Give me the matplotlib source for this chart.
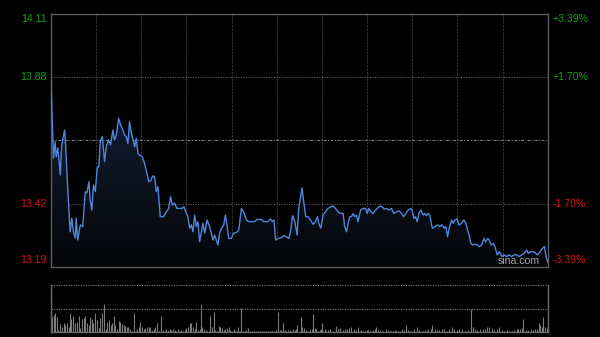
import numpy as np
import matplotlib
matplotlib.use('Agg')
import matplotlib.pyplot as plt
from matplotlib.path import Path
from matplotlib.patches import PathPatch
from matplotlib.colors import LinearSegmentedColormap

# ---------------- data ----------------
prev_close = 13.65
price_low, price_high = 13.19, 14.11
left_values = [14.11, 13.88, 13.42, 13.19]
left_labels = ['14.11', '13.88', '13.42', '13.19']
right_labels = ['+3.39%', '+1.70%', '-1.70%', '-3.39%']
session_minutes = 241
vol_max = 47.0
watermark = 'sina.com'

minutes = [
    0, 1.2, 2.0, 2.5, 3.3, 3.8, 4.5, 5.2, 6.6, 7.0,
    8.2, 9.3, 10.1, 10.9, 11.8, 12.2, 13.0, 14.2, 15.4, 16.6,
    17.4, 18.4, 19.0, 19.8, 20.6, 21.5, 22.4, 23.2, 23.9, 24.9,
    26.0, 26.8, 27.9, 28.9, 30.0, 30.8, 31.7, 32.8, 33.8, 34.6,
    35.7, 36.5, 37.3, 38.1, 39.0, 39.7, 40.6, 41.4, 42.2, 43.0,
    44.3, 45.4, 46.5, 47.5,
    48.3, 49.4, 50.3, 51.1, 51.9, 53.0, 54.6, 56.0, 57.1, 58.0,
    58.9, 60.0, 61.1, 62.4, 63.5, 64.5, 65.7, 66.4, 67.3, 68.1,
    68.9, 69.7, 70.5, 71.3, 72.1, 73.0, 73.7, 74.6, 75.7, 77.0,
    77.8, 78.6, 79.4, 80.2, 81.0, 81.8, 82.7, 83.8, 84.6, 85.4,
    86.2, 87.5, 88.6, 89.9, 91.1, 92.4, 93.5, 94.8, 95.9,
    97.2, 98.8, 100.0, 102.1, 103.2, 105.3, 106.5, 107.4, 108.2, 109.0,
    110.2, 111.8, 113.1, 114.2, 115.4, 116.2, 117.2, 118.3, 119.4, 120.2,
    121.0, 121.8, 122.6, 123.6, 124.7, 125.9, 127.2, 128.3, 129.3, 129.9,
    130.9, 132.0, 133.2, 134.4, 135.8, 136.9, 138.0, 139.0, 140.1, 141.7,
    142.5, 143.4, 144.2,
    145.0, 145.8, 146.6, 147.4, 148.2, 149.0, 150.2, 151.4, 152.6, 153.4,
    154.2, 155.2, 156.3, 157.1, 158.2, 159.5, 160.7, 161.6, 162.8, 163.9,
    165.2, 166.3, 167.7, 168.9, 170.1, 171.1, 172.2, 173.3, 174.5, 175.2,
    176.1, 176.9, 177.7, 178.5, 179.5, 180.6, 181.4, 182.2, 183.0, 183.8,
    185.0, 186.3, 187.6, 188.7, 189.8, 190.8, 191.6, 192.4, 193.2,
    194.4, 195.2, 196.0, 197.1, 197.9, 199.2, 200.3, 201.3, 202.1, 202.9,
    203.7, 204.6, 205.7, 206.8, 207.8, 208.9, 210.1, 210.9, 211.9, 212.6,
    213.5, 214.6, 215.4, 216.5, 217.5, 218.7, 219.8, 221.1, 222.2, 223.5,
    224.6, 225.9, 227.1, 228.4, 229.6, 230.8, 231.6, 232.7, 234.0, 235.2,
    236.1, 237.3, 238.4, 239.4, 240.2, 241.0,
]
prices = [
    13.870, 13.585, 13.646, 13.591, 13.623, 13.586, 13.525, 13.634, 13.688, 13.646,
    13.464, 13.318, 13.368, 13.318, 13.295, 13.368, 13.288, 13.343, 13.337, 13.464,
    13.459, 13.500, 13.434, 13.397, 13.488, 13.464, 13.550, 13.555, 13.646, 13.664,
    13.573, 13.627, 13.652, 13.634, 13.688, 13.652, 13.670, 13.731, 13.706, 13.694,
    13.670, 13.664, 13.640, 13.718, 13.676, 13.658, 13.627, 13.658, 13.603, 13.597,
    13.591, 13.567, 13.531, 13.500,
    13.504, 13.521, 13.518, 13.464, 13.482, 13.373, 13.373, 13.391, 13.403, 13.446,
    13.415, 13.422, 13.403, 13.403, 13.403, 13.409, 13.385, 13.373, 13.331, 13.343,
    13.318, 13.379, 13.337, 13.355, 13.282, 13.318, 13.349, 13.313, 13.361, 13.337,
    13.313, 13.288, 13.306, 13.288, 13.270, 13.313, 13.331, 13.343, 13.379, 13.343,
    13.294, 13.294, 13.313, 13.315, 13.325, 13.403, 13.391, 13.361, 13.355,
    13.355, 13.355, 13.363, 13.363, 13.355, 13.355, 13.365, 13.355, 13.361, 13.288,
    13.294, 13.297, 13.304, 13.300, 13.294, 13.318, 13.377, 13.355, 13.306, 13.403,
    13.440, 13.478, 13.427, 13.373, 13.373, 13.361, 13.345, 13.355, 13.373, 13.349,
    13.331, 13.379, 13.391, 13.403, 13.409, 13.412, 13.403, 13.394, 13.385, 13.385,
    13.337, 13.318, 13.349,
    13.373, 13.373, 13.385, 13.373, 13.379, 13.355, 13.397, 13.403, 13.403, 13.385,
    13.403, 13.391, 13.385, 13.394, 13.403, 13.412, 13.409, 13.401, 13.403, 13.397,
    13.403, 13.385, 13.391, 13.394, 13.385, 13.373, 13.385, 13.397, 13.403, 13.397,
    13.367, 13.373, 13.355, 13.385, 13.397, 13.379, 13.385, 13.377, 13.385, 13.379,
    13.331, 13.337, 13.343, 13.337, 13.343, 13.331, 13.337, 13.300, 13.331,
    13.361, 13.349, 13.361, 13.365, 13.343, 13.349, 13.361, 13.349, 13.325, 13.306,
    13.276, 13.270, 13.273, 13.270, 13.264, 13.270, 13.294, 13.282, 13.294, 13.288,
    13.270, 13.276, 13.264, 13.234, 13.246, 13.228, 13.234, 13.228, 13.234, 13.228,
    13.234, 13.234, 13.228, 13.234, 13.240, 13.252, 13.240, 13.246, 13.246, 13.240,
    13.234, 13.246, 13.258, 13.264, 13.228, 13.208,
]

vol_minutes = [
    0.1, 0.6, 1.4, 2.0, 2.8, 3.6, 4.6, 5.3, 6.1, 6.9,
    7.7, 8.5, 9.3, 9.8, 10.9, 11.7, 12.5, 13.4, 14.2, 15.0,
    15.8, 16.6, 17.4, 18.2, 19.0, 19.8, 20.6, 21.5, 22.3, 23.2,
    23.9, 24.9, 25.7, 26.5, 27.3, 28.1, 28.9, 29.5, 30.4, 31.2,
    32.0, 32.8, 33.6, 34.4, 35.2, 36.0, 36.8, 37.6, 38.5, 39.3,
    40.2, 41.0, 41.9, 42.5, 43.3, 44.1, 44.9, 45.7, 46.5, 47.4,
    48.2, 49.0, 49.8, 50.6, 51.4, 52.2, 53.3, 54.3, 55.1, 55.9,
    56.7, 57.6, 58.4, 59.2, 60.0, 60.8, 61.6, 62.4, 63.2, 64.0,
    64.8, 65.7, 66.5, 67.3, 68.1, 68.9, 69.7, 70.5, 71.3, 72.1,
    72.6, 73.4, 74.2, 75.0, 75.8, 76.7, 77.3, 78.1, 78.9, 79.7,
    80.5, 81.4, 82.2, 83.0, 83.8, 84.6, 85.4, 86.2, 87.0, 87.8,
    88.6, 89.5, 90.3, 90.9, 91.6, 92.2, 93.2, 94.0, 94.8, 95.4,
    96.4, 97.4, 98.4, 99.3, 100.3, 101.3, 102.2, 103.2, 104.2, 105.2,
    106.1, 107.1, 108.1, 109.0, 109.9, 111.0, 111.8, 112.6, 113.4, 114.2,
    115.0, 115.8, 116.6, 117.5, 118.3, 119.1, 119.6,
    121.2, 122.0, 122.8, 123.6, 124.7, 125.6, 126.4, 127.2, 128.0, 128.8,
    129.6, 130.4, 131.1, 131.7, 132.8, 133.6, 134.5, 135.6, 136.9, 138.2,
    139.3, 140.4, 141.7, 142.5, 143.4, 144.7, 145.8, 146.9, 147.9, 149.0,
    149.8, 150.6, 151.5, 152.3, 153.1, 153.9, 154.7, 155.5, 156.3, 157.1,
    157.9, 158.7, 159.6, 160.4, 161.2, 162.5, 163.6, 164.4, 165.2, 166.0,
    166.8, 167.6, 168.5, 169.3, 170.1, 171.2, 172.2, 173.3, 174.1, 174.9,
    176.1, 177.4, 178.6, 179.8, 180.6, 181.4, 182.2, 183.0, 184.2, 185.1,
    186.3, 187.4, 188.4, 189.5, 190.6, 191.9, 193.2, 194.4, 195.5, 196.8,
    198.1, 199.2, 200.8, 202.5, 203.6, 204.6, 205.7, 206.8, 208.1, 209.4,
    210.5, 211.7, 212.7, 213.8, 214.9, 216.2, 217.2, 218.6, 219.8, 221.1,
    222.4, 223.5, 224.6, 225.9, 226.7, 227.5, 228.4, 229.2, 230.3, 231.6,
    232.7, 234.0, 234.8, 235.6, 236.6, 237.4, 238.2, 238.9, 239.7, 240.5,
]
volumes = [
    33.7, 15, 17, 18.7, 15, 2, 8, 5, 8.7, 7,
    8.7, 5, 18.7, 12.7, 16, 8.7, 10, 16, 3.7, 12.7,
    13.7, 16, 8.7, 7, 15, 12.7, 8.7, 18.7, 12, 3.7,
    13.7, 18.7, 28, 2.7, 10, 12, 7, 8.7, 16.3, 7,
    2.7, 11, 10, 8, 7, 6, 5.3, 5.3, 2.7, 1.3,
    19.3, 1.3, 2.7, 4.7, 10, 5.3, 2.7, 3.7, 4.7, 5.3,
    4.7, 2, 2.7, 5.3, 9.3, 1.3, 16, 2, 1.3, 3.3,
    2, 2.7, 2, 2.7, 2, 1.3, 3.3, 1.3, 2, 0.7,
    2, 3.7, 5.3, 9.3, 8.7, 4.7, 2.7, 10, 2, 3,
    28, 5.3, 2.7, 2, 1, 1.3, 16, 5.3, 20.3, 2,
    1.3, 6, 4.7, 3.7, 2, 2.7, 3.7, 4.7, 2, 1.3,
    2.7, 1.3, 1.3, 4.7, 1.3, 23.7, 1.3, 1, 2, 3.7,
    1.3, 1.3, 1.3, 1.3, 1.3, 1.3, 1.3, 1.3, 1.3, 1.3,
    1.3, 1.3, 1.3, 2, 20.3, 2, 2, 9.3, 2, 1.3,
    2, 2, 1.3, 2.7, 2, 2.7, 7,
    15.3, 5.3, 3.7, 2, 1.3, 2, 2.7, 18, 3.7, 3.3,
    1.3, 2, 2.7, 9.3, 2.7, 1.3, 2, 2.7, 1.3, 6,
    2.7, 3.7, 2, 2.7, 2.7, 3.7, 4.7, 2.7, 2, 5.3,
    1.3, 2, 1.3, 1.3, 2, 2, 1.3, 1.3, 2, 2.7,
    4.7, 2, 2, 1.3, 1.3, 3.3, 2, 1.3, 1.3, 1.3,
    2, 1.3, 1.3, 1.3, 2.7, 2, 6.7, 2, 1.3, 1.3,
    2.7, 4.7, 2, 1.3, 1.3, 2, 1.3, 2.7, 2.7, 6.7,
    2.7, 2, 2, 2.7, 2.7, 1.3, 2.7, 4.7, 2.7, 2,
    2.7, 2.7, 1.3, 2, 23, 4.7, 2.7, 2, 2.7, 2.7,
    2.7, 4.7, 4.7, 3.7, 2, 2.7, 4.7, 2, 1.3, 2,
    1.3, 1.3, 2, 2.7, 2.7, 2.7, 3.7, 12.7, 2, 2,
    2.7, 2, 2.7, 3.3, 9.3, 7, 4.7, 14.7, 4.7, 3.7,
]

# ---------------- figure ----------------
W, H = 600, 337
fig = plt.figure(figsize=(W / 100, H / 100), dpi=100, facecolor='black')
ax = fig.add_axes([51 / W, 70 / H, 496.7 / W, 253 / H], facecolor='black')
axv = fig.add_axes([51 / W, 5 / H, 496.7 / W, 47 / H], facecolor='black')

t = np.array(minutes)
p = np.array(prices)

# gradient fill under the line
verts = list(zip(t, p)) + [(t[-1], price_low), (t[0], price_low)]
clip = PathPatch(Path(verts), facecolor='none', edgecolor='none')
ax.add_patch(clip)
cmap = LinearSegmentedColormap.from_list('fillg', ['#040507', '#15223a'])
grad = np.linspace(1, 0, 256).reshape(-1, 1)
im = ax.imshow(grad, extent=[t[0], t[-1], price_low, p.max()], aspect='auto',
               cmap=cmap, origin='upper', zorder=1, interpolation='bilinear')
im.set_clip_path(clip)

# grid lines
for xv in np.linspace(0, session_minutes, 12)[1:-1]:
    ax.axvline(xv, color='#353535', lw=0.8, ls=(0, (2, 1)), zorder=0.5)
for yv in left_values[1:3]:
    ax.axhline(yv, color='#6e6e6e', lw=0.7, ls=(0, (1, 1.6)), zorder=0.5)
ax.axhline(prev_close, color='#858585', lw=0.7, ls=(0, (3, 1.5, 1, 1.5)), zorder=0.5)

ax.plot(t, p, color='#4f86dc', lw=1.0, zorder=3, solid_joinstyle='round')

ax.set_xlim(0, session_minutes)
ax.set_ylim(price_low, price_high)
ax.set_xticks([])
ax.set_yticks([])
for s in ax.spines.values():
    s.set_color('#5c5c5c')
    s.set_linewidth(1.0)

# price labels
font = 'Liberation Sans'
green, red = '#15a015', '#d41515'
nudges = [-3.6, 0, 0, 5.0]
for val, ltxt, rtxt, dy in zip(left_values, left_labels, right_labels, nudges):
    col = green if val > prev_close else red
    ax.annotate(ltxt, xy=(0, val), xycoords=('axes fraction', 'data'),
                xytext=(-3.0, dy), textcoords='offset points', ha='right',
                va='center', color=col, fontsize=7.6, family=font)
    ax.annotate(rtxt, xy=(1, val), xycoords=('axes fraction', 'data'),
                xytext=(3.8, dy), textcoords='offset points', ha='left',
                va='center', color=col, fontsize=7.6, family=font)

# volume panel
axv.vlines(vol_minutes, 0, volumes, color='#7c7c7c', lw=0.8)
axv.axhline(vol_max, color='#808080', lw=0.8, ls=(0, (1, 1.2)))
axv.axhline(vol_max / 2, color='#808080', lw=0.8, ls=(0, (1, 1.2)))
axv.set_xlim(0, session_minutes)
axv.set_ylim(0, vol_max)
axv.set_xticks([])
axv.set_yticks([])
axv.spines['top'].set_visible(False)
for k in ['left', 'right', 'bottom']:
    axv.spines[k].set_color('#6a6a6a')
    axv.spines[k].set_linewidth(1.0)

fig.text(498 / W, 1 - 261.5 / H, watermark, color='#bdbdbd', alpha=0.85,
         fontsize=7.6, family=font, ha='left', va='center')

fig.savefig('out.png', dpi=100, facecolor='black')
